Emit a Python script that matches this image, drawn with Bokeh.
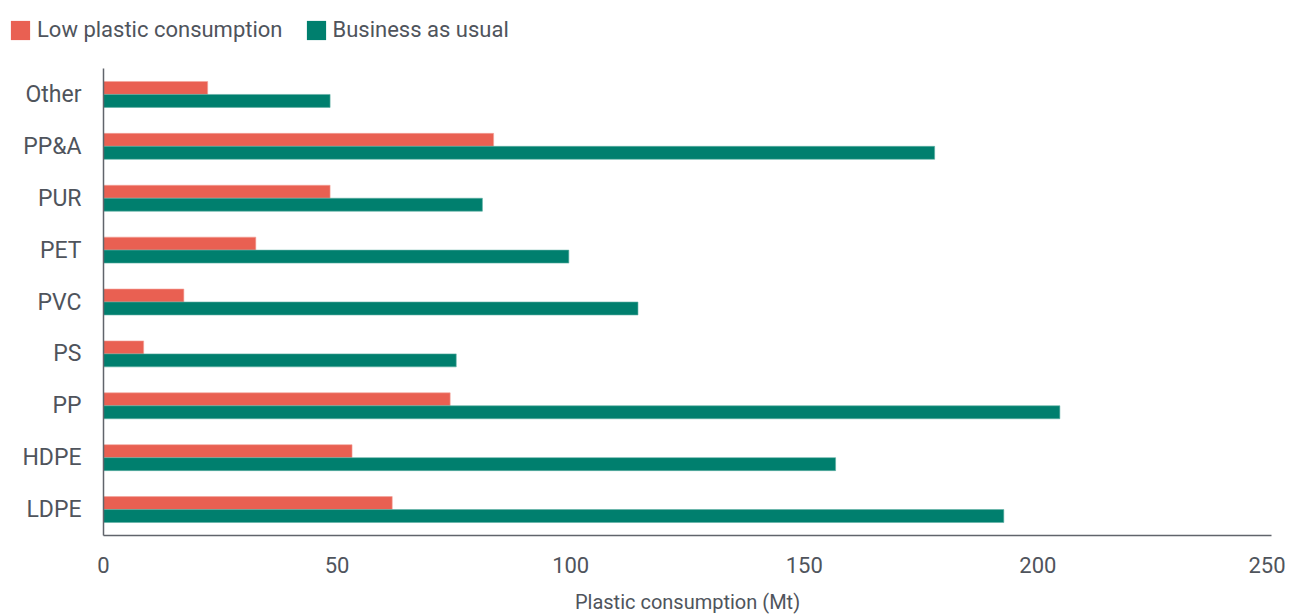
from bokeh.plotting import figure
from bokeh.layouts import column
from bokeh.models import FactorRange, Range1d, Legend, LegendItem, ColumnDataSource, FixedTicker
from bokeh.transform import dodge
from bokeh.embed import file_html
from bokeh.resources import INLINE

categories = ["LDPE", "HDPE", "PP", "PS", "PVC", "PET", "PUR", "PP&A", "Other"]
low_plastic = [61.8, 53.2, 74.2, 8.6, 17.2, 32.6, 48.5, 83.5, 22.3]
business_as_usual = [192.7, 156.7, 204.7, 75.5, 114.4, 99.6, 81.1, 177.9, 48.5]
x_ticks = [0, 50, 100, 150, 200, 250]
series_names = ["Low plastic consumption", "Business as usual"]

FONT = "Roboto"
TXT = "#4f545c"
C_LOW = "#e96052"
C_BAU = "#007f6e"

src = ColumnDataSource(dict(cat=categories, low=low_plastic, bau=business_as_usual))

# ---- legend strip (a Bokeh legend in its own small figure) ----
lg = figure(width=1285, height=50, x_range=Range1d(0, 1), y_range=Range1d(0, 1),
            x_axis_type=None, y_axis_type=None,
            output_backend="svg", toolbar_location=None,
            min_border_left=0, min_border_right=0, min_border_top=0, min_border_bottom=0)
lg.grid.visible = False
lg.outline_line_color = None
d_low = lg.hbar(y=0.5, left=0, right="low", height=0.1, source=src,
                fill_color=C_LOW, line_color=None, visible=False)
d_bau = lg.hbar(y=0.5, left=0, right="bau", height=0.1, source=src,
                fill_color=C_BAU, line_color=None, visible=False)
legend = Legend(items=[LegendItem(label=series_names[0], renderers=[d_low]),
                       LegendItem(label=series_names[1], renderers=[d_bau])],
                orientation="horizontal", location=(8, 8),
                label_text_font=FONT, label_text_font_size="22px", label_text_color=TXT,
                glyph_width=24, glyph_height=24, label_standoff=5, spacing=21,
                padding=0, margin=0, border_line_color=None, background_fill_alpha=0,
                inactive_fill_alpha=0)
lg.add_layout(legend, "center")

# ---- main chart ----
p = figure(frame_width=1168, frame_height=467, y_range=FactorRange(*categories, range_padding=0),
           x_range=Range1d(0, 250), output_backend="svg", toolbar_location=None,
           min_border_left=103, min_border_right=14, min_border_top=18, min_border_bottom=78)

p.hbar(y=dodge("cat", 0.125, range=p.y_range), right="low", left=0, height=0.25,
       source=src, fill_color=C_LOW, line_color="#f4a39b", line_width=0.6)
p.hbar(y=dodge("cat", -0.125, range=p.y_range), right="bau", left=0, height=0.25,
       source=src, fill_color=C_BAU, line_color="#5fb0a4", line_width=0.6)

p.outline_line_color = None
p.xgrid.grid_line_color = None
p.ygrid.grid_line_color = None

for ax in (p.xaxis[0], p.yaxis[0]):
    ax.axis_line_color = "#60646b"
    ax.axis_line_width = 1.5
    ax.major_tick_line_color = None
    ax.minor_tick_line_color = None
    ax.major_label_text_font = FONT
    ax.major_label_text_color = TXT

p.xaxis.ticker = FixedTicker(ticks=x_ticks)
p.xaxis.major_label_text_font_size = "22px"
p.xaxis.major_label_standoff = 15
p.xaxis.axis_label = "Plastic consumption (Mt)"
p.xaxis.axis_label_text_font = FONT
p.xaxis.axis_label_text_font_style = "normal"
p.xaxis.axis_label_text_font_size = "20px"
p.xaxis.axis_label_text_color = TXT
p.xaxis.axis_label_standoff = 14

p.yaxis.major_label_text_font_size = "23px"
p.yaxis.major_label_standoff = 16

layout = column(column(lg), p, spacing=0)
open("out.html", "w").write(file_html(layout, INLINE))
